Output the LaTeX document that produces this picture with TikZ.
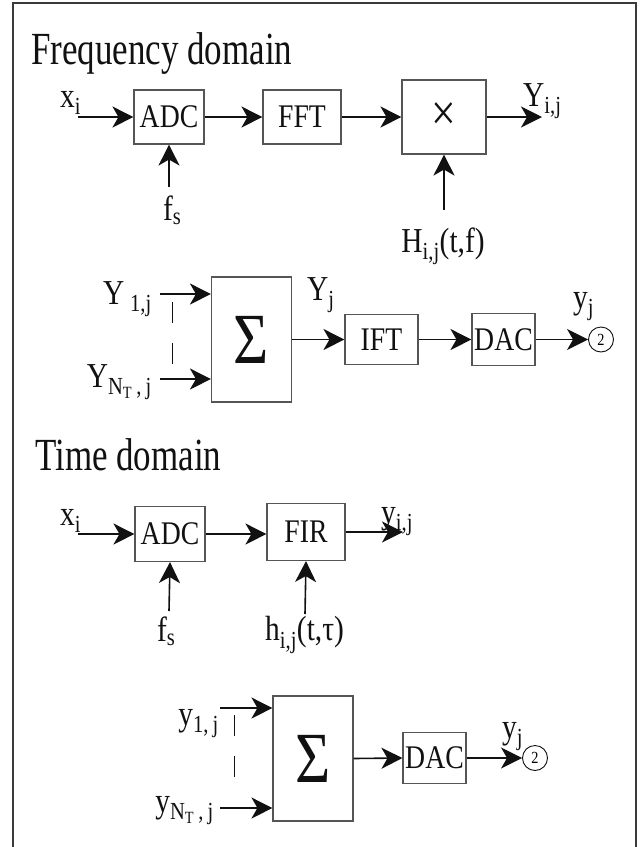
\documentclass[tikz,border=0pt]{standalone}
\usepackage{fontspec}
\setmainfont[FakeStretch=0.84]{Liberation Serif}
\newfontfamily\headfont[FakeStretch=0.76]{Liberation Serif}
\usetikzlibrary{arrows.meta,shapes.geometric,positioning}
\definecolor{ink}{HTML}{111111}
\definecolor{boxline}{HTML}{555555}
\definecolor{frameline}{HTML}{3A3A3A}
\newcommand\sbs[1]{\textsubscript{#1}}
\tikzset{
  x=1pt, y=1pt,
  % ---- frame and headings ----------------------------------------
  frame/.style   = {draw=frameline, line width=1.4pt},
  title/.style   = {font=\headfont\fontsize{46}{48}\selectfont, text=ink, inner sep=0pt},
  % ---- blocks ----------------------------------------------------
  blk/.style     = {draw=boxline, line width=1.1pt, inner sep=0pt,
                    font=\fontsize{33}{36}\selectfont, text=ink},
  sumblk/.style  = {blk, minimum width=80pt, minimum height=125pt,
                    font=\fontsize{72}{74}\selectfont},
  port/.style    = {circle, draw=ink, line width=.9pt, inner sep=0pt,
                    minimum size=25pt, font=\fontsize{17}{18}\selectfont},
  % ---- signals ---------------------------------------------------
  sig/.style     = {draw=ink, line width=1.6pt,
                    -{Stealth[length=21pt,width=21pt,inset=6pt]}},
  dashln/.style  = {draw=ink, line width=.8pt, dash pattern=on 21pt off 20pt},
  lbl/.style     = {font=\fontsize{35}{38}\selectfont, text=ink, inner sep=0pt},
}
\begin{document}
\begin{tikzpicture}
  \useasboundingbox (0,0) rectangle (642,-847);
  \draw[frame] (13,-847) -- (13,-3) -- (636,-3) -- (636,-847);

  % ---- frequency domain -------------------------------------------
  \node[title, anchor=base west] (hdFreq) at (31,-64) {Frequency domain};
  \node[blk, minimum width=70pt, minimum height=54pt] (adcA) at (169,-117) {ADC};
  \node[blk, minimum width=78pt, minimum height=54pt] (fftA) at (302,-117) {FFT};
  \node[blk, minimum width=84pt, minimum height=74pt, font=\fontsize{52}{54}\selectfont] (mulA) at (444,-117) {×};
  \coordinate (xinA) at (78,-117);
  \coordinate (fsinA) at (169,-187);
  \coordinate (hinA) at (444,-210);
  \coordinate (youtA) at (542,-117);
  \draw[sig] (xinA) -- (adcA.west);
  \draw[sig] (fsinA) -- (adcA.south);
  \draw[sig] (adcA.east) -- (fftA.west);
  \draw[sig] (fftA.east) -- (mulA.west);
  \draw[sig] (hinA) -- (mulA.south);
  \draw[sig] (mulA.east) -- (youtA);
  \node[lbl, anchor=base west] (xiA) at (60,-107) {x\sbs{i}};
  \node[lbl, anchor=north west] (fsA) at (163,-196) {f\sbs{s}};
  \node[lbl, anchor=base west] (yijA) at (523,-106) {Y\sbs{i,j}};
  \node[lbl, anchor=base] (hijA) at (443,-252) {H\sbs{i,j}(t,f)};

  \node[sumblk] (sumA) at (251.5,-339.5) {Σ};
  \node[blk, minimum width=73pt, minimum height=50pt] (ift) at (381.5,-339.5) {IFT};
  \node[blk, minimum width=63pt, minimum height=52pt] (dacA) at (503.5,-339.5) {DAC};
  \node[port] (portA) at (601,-339.5) {2};
  \coordinate (yoneA) at (160,-294);
  \coordinate (yntA) at (160,-379);
  \draw[sig] (yoneA) -- (yoneA -| sumA.west);
  \draw[sig] (yntA) -- (yntA -| sumA.west);
  \draw[dashln] (172,-302) -- (172,-364);
  \draw[sig] (sumA.east) -- (ift.west);
  \draw[sig] (ift.east) -- (dacA.west);
  \draw[sig] (dacA.east) -- (portA.west);
  \node[lbl, anchor=base east] (yoneLblA) at (152,-304) {Y\,\sbs{1,j}};
  \node[lbl, anchor=base east] (yntLblA) at (152,-387) {Y\sbs{N\sbs{T}\,,\,j}};
  \node[lbl, anchor=base west] (yjA) at (307,-300) {Y\sbs{j}};
  \node[lbl, anchor=base west] (yjOutA) at (573,-308) {y\sbs{j}};

  % ---- time domain ------------------------------------------------
  \node[title, anchor=base west] (hdTime) at (35,-470) {Time domain};
  \node[blk, minimum width=70pt, minimum height=55pt] (adcB) at (170,-534) {ADC};
  \node[blk, minimum width=78pt, minimum height=57pt] (fir) at (306,-532) {FIR};
  \coordinate (xinB) at (78,-534);
  \coordinate (fsinB) at (169,-611);
  \coordinate (hinB) at (305,-614);
  \coordinate (youtB) at (403,-532);
  \draw[sig] (xinB) -- (adcB.west);
  \draw[sig] (fsinB) -- (adcB.south);
  \draw[sig] (adcB.east) -- (adcB.east -| fir.west);
  \draw[sig] (hinB) -- (fir.south);
  \draw[sig] (fir.east) -- (youtB);
  \node[lbl, anchor=base west] (xiB) at (60,-525) {x\sbs{i}};
  \node[lbl, anchor=north west] (fsB) at (157,-617) {f\sbs{s}};
  \node[lbl, anchor=base west] (yijB) at (381,-523) {y\sbs{i,j}};
  \node[lbl, anchor=north west] (hijB) at (265,-616) {h\sbs{i,j}(t,τ)};

  \node[sumblk] (sumB) at (313,-758.5) {Σ};
  \node[blk, minimum width=63pt, minimum height=51pt] (dacB) at (434.5,-758) {DAC};
  \node[port] (portB) at (535,-758) {2};
  \coordinate (yoneB) at (220,-708);
  \coordinate (yntB) at (220,-808);
  \draw[sig] (yoneB) -- (yoneB -| sumB.west);
  \draw[sig] (yntB) -- (yntB -| sumB.west);
  \draw[dashln] (234,-715) -- (234,-781);
  \draw[sig] (sumB.east) -- (dacB.west);
  \draw[sig] (dacB.east) -- (portB.west);
  \node[lbl, anchor=base east] (yoneLblB) at (219,-725) {y\sbs{1,\,j}};
  \node[lbl, anchor=base east] (yntLblB) at (214,-812) {y\sbs{N\sbs{T}\,,\,j}};
  \node[lbl, anchor=base west] (yjB) at (502,-738) {y\sbs{j}};
\end{tikzpicture}
\end{document}
